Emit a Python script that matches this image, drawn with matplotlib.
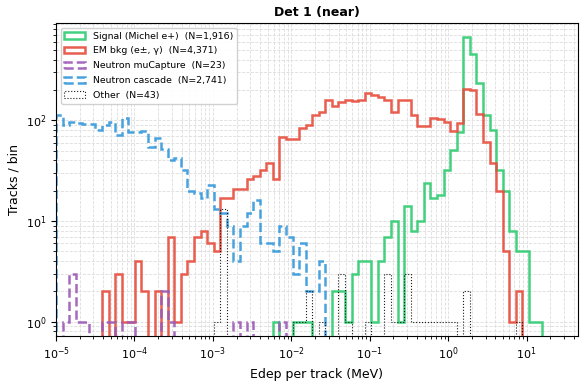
import numpy as np
import matplotlib
matplotlib.use("Agg")
import matplotlib.pyplot as plt
from matplotlib.ticker import LogLocator, NullFormatter

# log bins, ~12 per decade
edges = np.logspace(-5, 1.7, 81)

# counts per bin (bins 0..79)
signal = [0]*33 + [1, 0, 0, 1, 1, 1, 0, 0, 0, 2, 2, 1, 3, 4, 4, 1, 4, 7, 10, 1, 14, 8, 10,
                   24, 17, 18, 32, 51, 77, 668, 460, 232, 112, 80, 32, 20, 8, 5, 5, 1, 1, 0, 0, 0, 0, 0, 0]
em_bkg = [0, 0, 0, 0, 0, 0, 0, 2, 0, 3, 1, 1, 4, 2, 0, 2, 0, 7, 1, 3, 4, 7, 8, 6, 5, 17, 17, 21,
          21, 26, 28, 32, 38, 26, 68, 65, 65, 84, 90, 112, 121, 160, 140, 152, 158, 155, 160, 188,
          177, 170, 160, 120, 158, 158, 112, 88, 88, 106, 102, 97, 78, 95, 206, 200, 116, 61, 38,
          20, 5, 1, 2, 0, 0, 0, 0, 0, 0, 0, 0, 0]
mu_capture = [0, 1, 3, 1, 1, 0, 0, 1, 1, 0, 1, 1, 0, 0, 0, 0, 2, 1, 0, 0, 0, 0, 0, 0, 0, 0, 0, 1,
              0, 1, 0, 0, 0, 0, 1] + [0]*45
n_cascade = [112, 90, 97, 93, 92, 92, 80, 90, 97, 72, 105, 76, 76, 78, 54, 66, 52, 40, 42, 32,
             20, 19, 17, 23, 13, 12, 9, 4, 9, 12, 16, 6, 6, 5, 9, 7, 3, 6, 2, 2, 4] + [0]*39
other = [0]*24 + [1, 13] + [0]*10 + [1, 1, 2, 0, 1, 0, 0, 3, 1, 0, 0, 1, 0, 0, 3, 1, 1, 3,
                               1, 1, 1, 1, 1, 1, 1, 0, 2, 0, 0, 0, 0, 0, 0, 0, 1] + [0]*9

series = [
    (signal, "Signal (Michel e+)  (N=1,916)", "#2ecc71", "-", 1.8),
    (em_bkg, "EM bkg (e\u00b1, \u03b3)  (N=4,371)", "#e74c3c", "-", 1.8),
    (mu_capture, "Neutron muCapture  (N=23)", "#9b59b6", "--", 1.8),
    (n_cascade, "Neutron cascade  (N=2,741)", "#3498db", "--", 1.8),
    (other, "Other  (N=43)", "black", ":", 0.8),
]

fig = plt.figure(figsize=(5.8, 3.83), dpi=100)
ax = fig.add_axes([0.0966, 0.1227, 0.8997, 0.8166])
ax.set_xscale("log")
ax.set_yscale("log")

centers = edges[:-1]
for counts, label, color, ls, lw in series:
    ax.hist(centers, bins=edges, weights=counts, histtype="step", color=color,
            linestyle=ls, linewidth=lw, alpha=0.9, label=label)

ax.set_xlim(1e-5, 45)
ax.set_ylim(0.72, 920)
ax.xaxis.set_major_locator(LogLocator(base=10, numticks=15))
ax.xaxis.set_minor_locator(LogLocator(base=10, subs=np.arange(2, 10), numticks=15))
ax.xaxis.set_minor_formatter(NullFormatter())
ax.yaxis.set_minor_formatter(NullFormatter())
ax.grid(True, which="both", linestyle="--", linewidth=0.6, color="#dddddd")
ax.set_axisbelow(True)
ax.tick_params(labelsize=8)

ax.set_xlabel("Edep per track (MeV)", fontsize=9)
ax.set_ylabel("Tracks / bin", fontsize=9)
ax.set_title("Det 1 (near)", fontsize=9, fontweight="bold", pad=5)
ax.legend(loc="upper left", fontsize=6.75, framealpha=0.9, handlelength=2.2,
          labelspacing=0.62)

fig.savefig("out.png", dpi=100)
